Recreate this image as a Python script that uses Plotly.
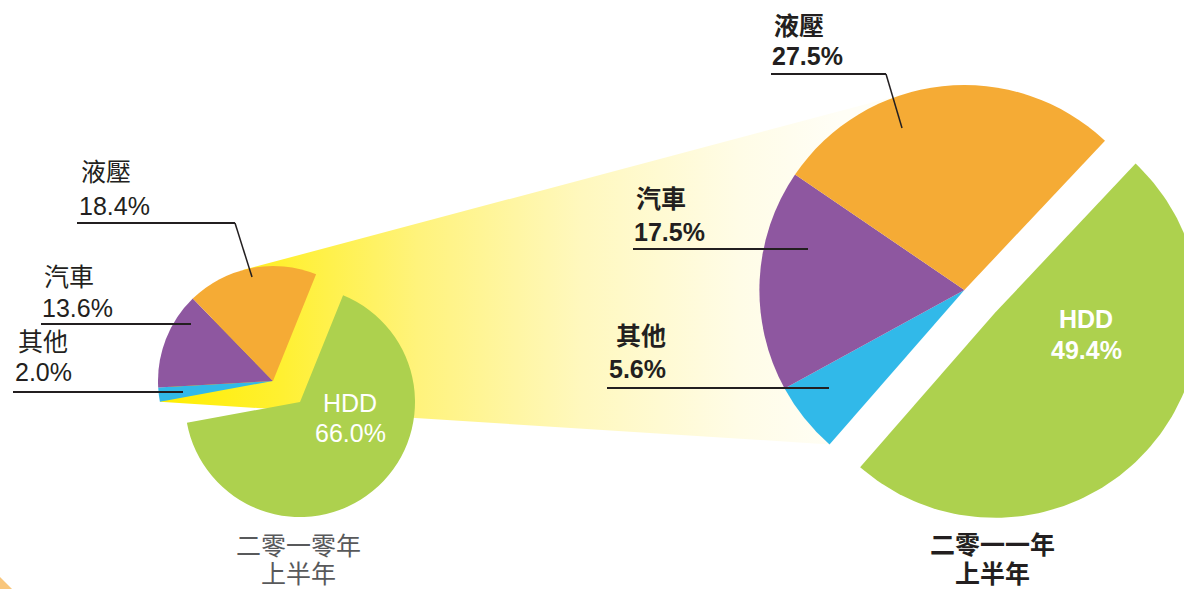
import math
import plotly.graph_objects as go

W, H = 1184, 589

# ---------------- data ----------------
categories = ["HDD", "其他", "汽車", "液壓"]
share_2010 = [66.0, 2.0, 13.6, 18.4]
share_2011 = [49.4, 5.6, 17.5, 27.5]
period_2010 = ["二零一零年", "上半年"]
period_2011 = ["二零一一年", "上半年"]

# ---------------- style ----------------
colors = ["#ADD14E", "#31B9E9", "#8E57A0", "#F5AB35"]
CLEAR = "rgba(0,0,0,0)"
DARK = "#231F20"
FONT = "Liberation Sans, Noto Sans CJK TC, sans-serif"

# pie geometry in pixels (centre of the remaining slices, radius, start angle,
# offset of the exploded HDD slice)
small = dict(cx=273.0, cy=381.0, r=115.0, rot=22.0, dx=27.0, dy=21.0)
big = dict(cx=964.4, cy=290.0, r=205.0, rot=43.3, dx=30.6, dy=22.8)


def domain(cx, cy, r):
    return dict(x=[(cx - r) / W, (cx + r) / W],
                y=[1 - (cy + r) / H, 1 - (cy - r) / H])


def pt(g, ang, cx=None, cy=None):
    cx = g["cx"] if cx is None else cx
    cy = g["cy"] if cy is None else cy
    a = math.radians(ang)
    return cx + g["r"] * math.sin(a), cy - g["r"] * math.cos(a)


fig = go.Figure()

# ---------------- yellow funnel (behind) ----------------
# lower edge: joins the HDD/其他 boundary points on both pies
end_small = small["rot"] + share_2010[0] / sum(share_2010) * 360
end_big = big["rot"] + share_2011[0] / sum(share_2011) * 360
p1 = pt(small, end_small)
p2 = pt(big, end_big)
# upper edge: common outer tangent of both circles
Dx, Dy = big["cx"] - small["cx"], big["cy"] - small["cy"]
Dl = math.hypot(Dx, Dy)
phi = math.atan2(Dy, Dx)
theta = phi - math.acos((small["r"] - big["r"]) / Dl)
nx, ny = math.cos(theta), math.sin(theta)
t1 = (small["cx"] + small["r"] * nx, small["cy"] + small["r"] * ny)
t2 = (big["cx"] + big["r"] * nx, big["cy"] + big["r"] * ny)

fig.add_trace(go.Scatter(
    x=[p1[0], t1[0], t2[0], p2[0], p1[0]],
    y=[p1[1], t1[1], t2[1], p2[1], p1[1]],
    mode="lines", fill="toself",
    line=dict(width=0, color=CLEAR),
    fillgradient=dict(type="horizontal", start=160, stop=840,
                      colorscale=[[0.0, "#FFEE00"], [0.18, "#FFF032"],
                                  [0.38, "#FFF37C"], [0.62, "#FFF8BE"],
                                  [0.85, "#FFFCE6"], [1.0, "#FFFEF6"]]),
    hoverinfo="skip", showlegend=False))

# ---------------- big pie exploded HDD slice (runs past right edge) ----------------
hcx, hcy = big["cx"] + big["dx"], big["cy"] + big["dy"]
a0 = big["rot"]
a1 = end_big
n = 120
xs, ys = [hcx], [hcy]
for i in range(n + 1):
    x, y = pt(big, a0 + (a1 - a0) * i / n, hcx, hcy)
    xs.append(x)
    ys.append(y)
xs.append(hcx)
ys.append(hcy)
fig.add_trace(go.Scatter(
    x=xs, y=ys, mode="lines", fill="toself",
    fillcolor=colors[0], line=dict(width=0, color=CLEAR),
    name=f"{categories[0]} {share_2011[0]:.1f}%", hoverinfo="name",
    showlegend=False))

# ---------------- pies ----------------
def pie(values, g, cols, cx, cy):
    return go.Pie(
        labels=categories, values=values, sort=False,
        direction="clockwise", rotation=g["rot"],
        marker=dict(colors=cols, line=dict(width=0)),
        textinfo="none", hoverinfo="label+percent",
        domain=domain(cx, cy, g["r"]), showlegend=False)

rest_cols = [CLEAR] + colors[1:]
hdd_cols = [colors[0], CLEAR, CLEAR, CLEAR]
fig.add_trace(pie(share_2010, small, rest_cols, small["cx"], small["cy"]))
fig.add_trace(pie(share_2010, small, hdd_cols,
                  small["cx"] + small["dx"], small["cy"] + small["dy"]))
fig.add_trace(pie(share_2011, big, rest_cols, big["cx"], big["cy"]))

# ---------------- labels ----------------
ann = []


def label(text, x, y, anchor="left", color=DARK, bold=False, size=25):
    ann.append(dict(
        text=text, x=x, y=y, xref="x", yref="y",
        xanchor=anchor, yanchor="middle", showarrow=False,
        font=dict(family=FONT, size=size, color=color,
                  weight=700 if bold else 400)))


# 2010 (regular weight)
label(categories[3], 79, 172); label(f"{share_2010[3]:.1f}%", 77, 206)
label(categories[2], 42, 277); label(f"{share_2010[2]:.1f}%", 40, 308)
label(categories[1], 16, 342); label(f"{share_2010[1]:.1f}%", 13, 372)
label(categories[0], 350, 403, "center", "white")
label(f"{share_2010[0]:.1f}%", 350, 433, "center", "white")
label(period_2010[0], 298, 546, "center", "#58595B")
label(period_2010[1], 298, 574, "center", "#58595B")

# 2011 (bold)
label(categories[3], 772, 26, bold=True); label(f"{share_2011[3]:.1f}%", 770, 56, bold=True)
label(categories[2], 634, 199, bold=True); label(f"{share_2011[2]:.1f}%", 632, 232, bold=True)
label(categories[1], 614, 336, bold=True); label(f"{share_2011[1]:.1f}%", 607, 369, bold=True)
label(categories[0], 1086, 319, "center", "white", True)
label(f"{share_2011[0]:.1f}%", 1086, 350, "center", "white", True)
label(period_2011[0], 992, 545, "center", DARK, True)
label(period_2011[1], 992, 574, "center", DARK, True)

# ---------------- leader lines ----------------
shapes = []


def seg(x0, y0, x1, y1, w=2):
    shapes.append(dict(type="line", xref="x", yref="y", x0=x0, y0=y0,
                       x1=x1, y1=y1, layer="above",
                       line=dict(color=DARK, width=w)))


seg(77, 223, 235, 223); seg(235, 223, 252, 277, 1.5)
seg(41, 324, 191, 324)
seg(13, 392, 183, 392)
seg(771, 74, 886, 74); seg(886, 74, 902, 128, 1.5)
seg(633, 249, 808, 249)
seg(607, 388, 829, 388)

# small decorative corner at bottom left
shapes.append(dict(type="path", xref="x", yref="y",
                   path="M 0 577 L 12 589 L 0 589 Z",
                   fillcolor="#F8C67C", line=dict(width=0), layer="below"))

fig.update_layout(
    width=W, height=H,
    margin=dict(l=0, r=0, t=0, b=0),
    paper_bgcolor="white", plot_bgcolor="white",
    xaxis=dict(range=[0, W], visible=False, fixedrange=True),
    yaxis=dict(range=[H, 0], visible=False, fixedrange=True),
    showlegend=False,
    annotations=ann, shapes=shapes,
)

fig.write_html("out.html")
